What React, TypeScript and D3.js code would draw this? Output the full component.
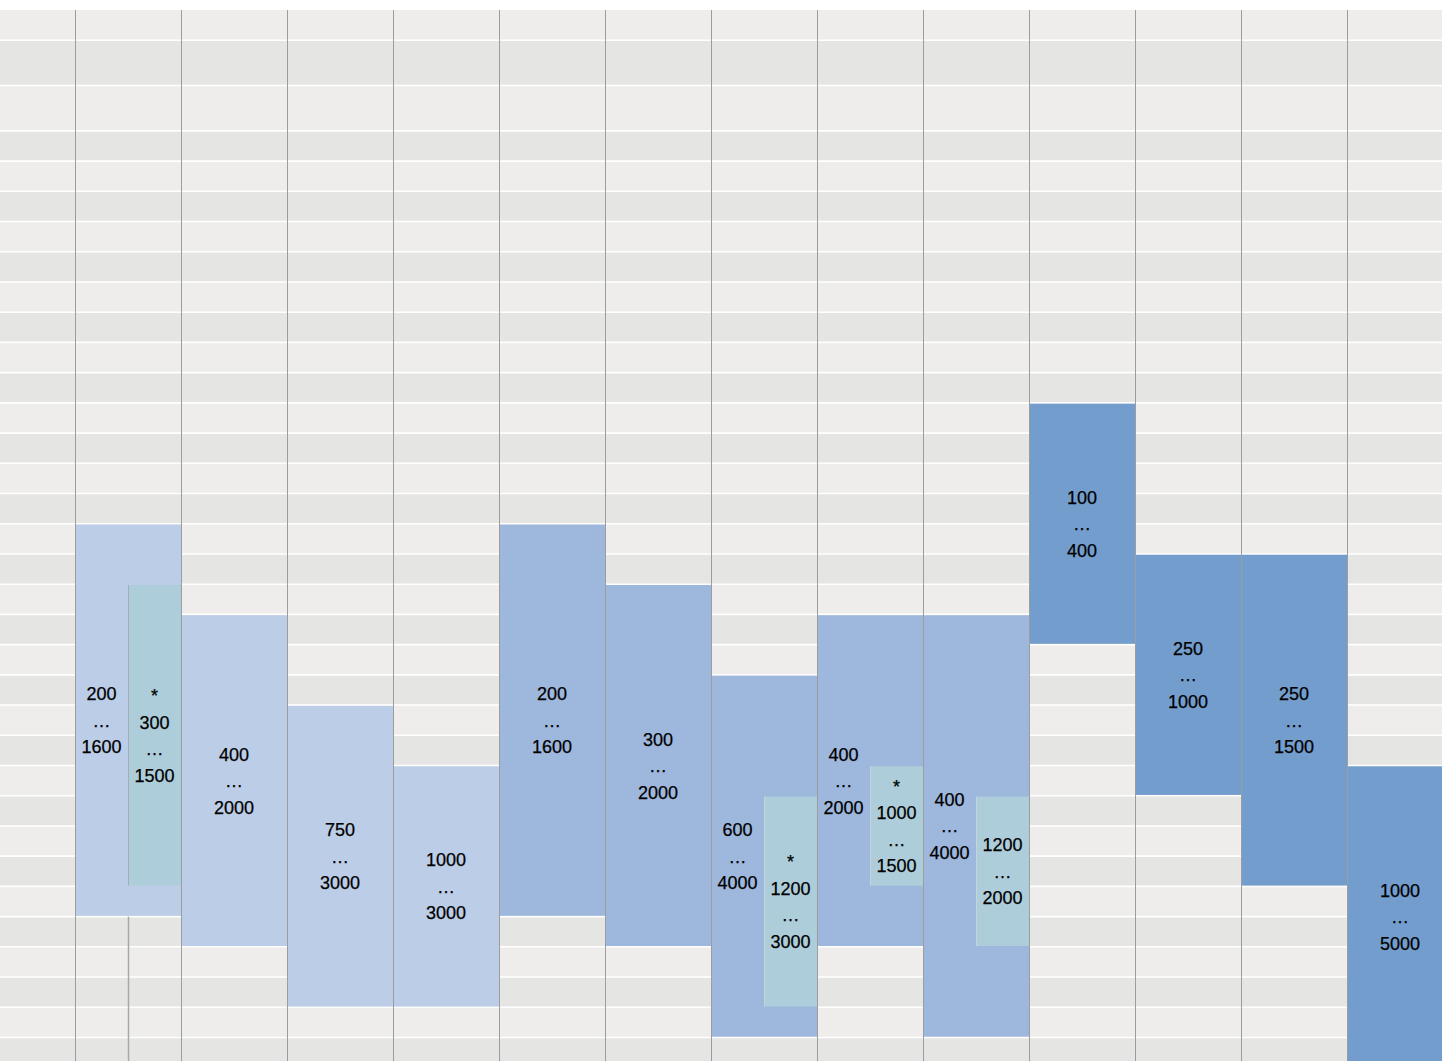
import React from 'react';
import * as d3 from 'd3';

// ---- data ----
const columns = ['c1', 'c2', 'c3', 'c4', 'c5', 'c6', 'c7', 'c8', 'c9', 'c10', 'c11', 'c12', 'c13'];
const groups = ['A', 'A', 'A', 'A', 'B', 'B', 'B', 'B', 'B', 'C', 'C', 'C', 'C'];
const rangeLow = [200, 400, 750, 1000, 200, 300, 600, 400, 400, 100, 250, 250, 1000];
const rangeHigh = [1600, 2000, 3000, 3000, 1600, 2000, 4000, 2000, 4000, 400, 1000, 1500, 5000];
const innerLow: (number | null)[] = [300, null, null, null, null, null, 1200, 1000, 1200, null, null, null, null];
const innerHigh: (number | null)[] = [1500, null, null, null, null, null, 3000, 1500, 2000, null, null, null, null];
const innerMarked = [true, false, false, false, false, false, true, true, false, false, false, false, false];
const rowValues = [10, 12, 15, 16, 20, 25, 30, 40, 50, 60, 75, 80, 100, 120, 150, 160, 200, 250, 300, 400, 500, 600, 750, 800, 1000, 1200, 1250, 1500, 1600, 2000, 2500, 3000, 4000, 5000];

const W = 1442;
const H = 1061;
const TOP = 10;
const UNIT = 30.22;
const COLW = 106;
const FIRST_LINE = 75;

export default function App() {
  const weights = rowValues.map((_, i) => (i === 1 || i === 2 ? 1.5 : 1));
  const cum = [0, ...Array.from(d3.cumsum(weights))];
  const total = cum[cum.length - 1];
  const yUnit = d3.scaleLinear().domain([0, total]).range([TOP, TOP + total * UNIT]);
  const rowIndex = new Map(rowValues.map((v, i) => [v, i]));
  const rowTop = (v: number) => yUnit(cum[rowIndex.get(v)!]);
  const rowBottom = (v: number) => yUnit(cum[rowIndex.get(v)! + 1]);

  const bandDomain = ['', ...columns];
  const x = d3
    .scaleBand<string>()
    .domain(bandDomain)
    .range([FIRST_LINE - COLW, FIRST_LINE - COLW + bandDomain.length * COLW])
    .padding(0);
  const bw = x.bandwidth();

  const color = d3.scaleOrdinal<string, string>().domain(['A', 'B', 'C']).range(['#bccde7', '#9eb7dc', '#739dcd']);
  const innerColor = '#aecdda';
  const stripe = ['#eeedeb', '#e5e5e4'];
  const gridLine = '#9d9d9d';
  const LH = 26.5;
  const font = '"Liberation Sans", Arial, Helvetica, sans-serif';

  const labelLines = (lines: string[], cx: number, cy: number, key: string) =>
    lines.map((t, i) => (
      <text
        key={key + i}
        x={cx}
        y={cy + (i - (lines.length - 1) / 2) * LH + 6.5}
        textAnchor="middle"
        fontFamily={font}
        fontSize={18}
        fill="#000"
        stroke="#000"
        strokeWidth={0.25}
      >
        {t}
      </text>
    ));

  return (
    <svg width={W} height={H} style={{ position: 'absolute', left: 0, top: 0, display: 'block' }}>
      <rect x={0} y={0} width={W} height={H} fill="#fff" />
      {rowValues.map((v, i) => (
        <rect key={'r' + i} x={0} y={rowTop(v)} width={W} height={rowBottom(v) - rowTop(v)} fill={stripe[i % 2]} />
      ))}
      {rowValues.map((v, i) =>
        i === 0 ? null : (
          <line key={'s' + i} x1={0} x2={W} y1={rowTop(v)} y2={rowTop(v)} stroke="#fff" strokeWidth={1.6} />
        )
      )}
      {columns.map((c, i) => {
        const x0 = x(c)!;
        const t = rowTop(rangeLow[i]) + 0.8;
        const b = rowBottom(rangeHigh[i]) - 0.8;
        return <rect key={'b' + c} x={x0} y={t} width={bw} height={b - t} fill={color(groups[i])} />;
      })}
      {columns.map((c, i) => {
        const lo = innerLow[i];
        const hi = innerHigh[i];
        if (lo == null || hi == null) return null;
        const x0 = x(c)! + bw / 2;
        const t = rowTop(lo) + 0.8;
        const b = rowBottom(hi) - 0.8;
        return (
          <g key={'i' + c}>
            <rect x={x0} y={t} width={bw / 2} height={b - t} fill={innerColor} />
            <line x1={x0 + 0.5} x2={x0 + 0.5} y1={t} y2={b} stroke={i === 0 ? '#a3aeb6' : '#c4d3dc'} strokeWidth={1} />
            {i === 0 ? (
              <line x1={x0 + 0.5} x2={x0 + 0.5} y1={rowBottom(rangeHigh[i])} y2={H} stroke="#a8a8a8" strokeWidth={1.5} />
            ) : null}
          </g>
        );
      })}
      {bandDomain.slice(1).map((c) => (
        <line key={'v' + c} x1={x(c)! + 0.5} x2={x(c)! + 0.5} y1={TOP} y2={H} stroke={gridLine} strokeWidth={1} />
      ))}
      {columns.map((c, i) => {
        const hasInner = innerLow[i] != null;
        const x0 = x(c)!;
        const cx = hasInner ? x0 + bw / 4 : x0 + bw / 2;
        const cy = (rowTop(rangeLow[i]) + rowBottom(rangeHigh[i])) / 2;
        const out = labelLines([String(rangeLow[i]), '…', String(rangeHigh[i])], cx, cy, 'm' + c);
        if (hasInner) {
          const lo = innerLow[i]!;
          const hi = innerHigh[i]!;
          const icy = (rowTop(lo) + rowBottom(hi)) / 2;
          const lines = innerMarked[i] ? ['*', String(lo), '…', String(hi)] : [String(lo), '…', String(hi)];
          out.push(...labelLines(lines, x0 + (bw * 3) / 4, icy, 'n' + c));
        }
        return <g key={'l' + c}>{out}</g>;
      })}
    </svg>
  );
}
